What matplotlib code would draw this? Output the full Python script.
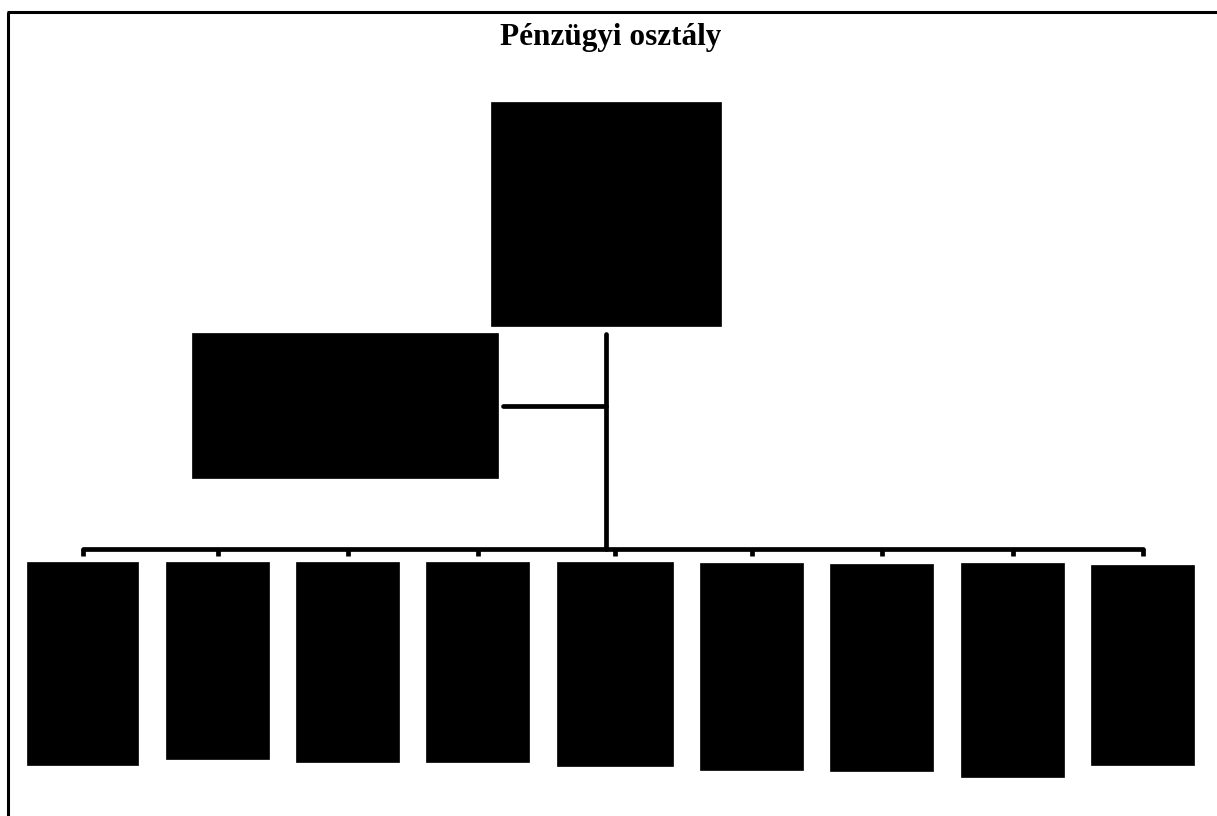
import matplotlib
matplotlib.use("Agg")
import matplotlib.pyplot as plt
from matplotlib.patches import Rectangle

# ── org chart nodes (labels are blacked out in the source) ────────────────
TITLE = "Pénzügyi osztály"

# head box and the staff box beside it: (left, top, right, bottom) in px
HEAD = (491, 102, 721, 326)
STAFF = (192, 333, 498, 478)

# nine subordinate units on the bottom row
UNIT_LEFT = [27, 166, 296, 426, 557, 700, 830, 961, 1091]
UNIT_RIGHT = [138, 269, 399, 529, 673, 803, 933, 1064, 1194]
UNIT_TOP = [562, 562, 562, 562, 562, 563, 564, 563, 565]
UNIT_BOTTOM = [765, 759, 762, 762, 766, 770, 771, 777, 765]

TRUNK_X = 606
BUS_Y = 549
STAFF_Y = 406

W, H = 1217, 816
fig = plt.figure(figsize=(W / 100, H / 100), dpi=100)
ax = fig.add_axes([0, 0, 1, 1])
ax.set_xlim(0, W)
ax.set_ylim(H, 0)
ax.axis("off")


def box(l, t, r, b):
    ax.add_patch(Rectangle((l, t), r - l, b - t, facecolor="black",
                           edgecolor="black", lw=0.5, zorder=3))


# frame (top and left edges only are visible)
ax.plot([7, W], [12, 12], color="black", lw=2.2, solid_capstyle="butt")
ax.plot([8, 8], [12, H], color="black", lw=2.2, solid_capstyle="butt")

ax.text(W / 2 + 2, 38, TITLE, ha="center", va="center", fontsize=22.5,
        fontweight="bold", family="Liberation Serif")

box(*HEAD)
box(*STAFF)
for l, t, r, b in zip(UNIT_LEFT, UNIT_TOP, UNIT_RIGHT, UNIT_BOTTOM):
    box(l, t, r, b)

# connectors
LW = 3.4
ax.plot([TRUNK_X, TRUNK_X], [334, BUS_Y], color="black", lw=LW,
        solid_capstyle="round")
ax.plot([STAFF[2] + 5, TRUNK_X], [STAFF_Y, STAFF_Y], color="black", lw=LW,
        solid_capstyle="round")
centers = [(l + r) / 2 for l, r in zip(UNIT_LEFT, UNIT_RIGHT)]
ax.plot([centers[0], centers[-1]], [BUS_Y, BUS_Y], color="black", lw=LW,
        solid_capstyle="round")
for c in centers:
    ax.plot([c, c], [BUS_Y, 556], color="black", lw=LW, solid_capstyle="butt")

fig.savefig("out.png", dpi=100, facecolor="white")
